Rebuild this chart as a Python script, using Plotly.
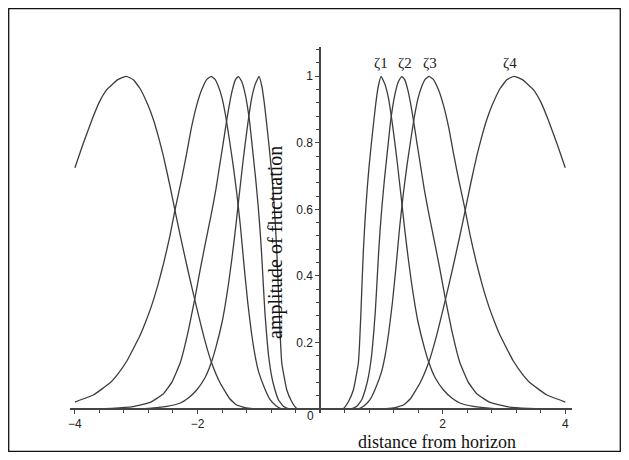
import plotly.graph_objects as go

# Right-hand half of each curve (the picture is mirror-symmetric about x = 0)
zeta1_x = [0.00, 0.36, 0.39, 0.47, 0.544, 0.59, 0.625, 0.645, 0.665, 0.685, 0.705, 0.725, 0.745, 0.77, 0.80, 0.835, 0.87, 0.91, 0.95, 0.995,
           1.06, 1.115, 1.17, 1.22, 1.26, 1.33, 1.387, 1.44, 1.495, 1.55, 1.60, 1.70, 1.77, 1.88, 2.01, 2.15, 2.28, 2.50, 2.80, 3.20, 4.00]
zeta1_y = [0.00, 0.00, 0.003, 0.025, 0.058, 0.10, 0.139, 0.20, 0.285, 0.38, 0.47, 0.54, 0.60, 0.665, 0.73, 0.795, 0.855, 0.92, 0.97, 1.00,
           0.975, 0.935, 0.87, 0.80, 0.74, 0.625, 0.53, 0.45, 0.375, 0.31, 0.26, 0.185, 0.142, 0.093, 0.058, 0.033, 0.018, 0.008, 0.002, 0.0, 0.0]

zeta2_x = [0.00, 0.50, 0.60, 0.68, 0.74, 0.79, 0.84, 0.87, 0.90, 0.925, 0.955, 0.98, 1.01, 1.05, 1.09, 1.15, 1.22, 1.28, 1.333,
           1.38, 1.43, 1.48, 1.53, 1.58, 1.64, 1.70, 1.76, 1.82, 1.88, 1.95, 2.04, 2.15, 2.28, 2.42, 2.56, 2.77, 3.05, 3.40, 4.00]
zeta2_y = [0.00, 0.00, 0.008, 0.028, 0.06, 0.098, 0.16, 0.219, 0.29, 0.37, 0.47, 0.54, 0.61, 0.69, 0.76, 0.864, 0.945, 0.985, 1.00,
           0.99, 0.96, 0.915, 0.86, 0.80, 0.73, 0.66, 0.60, 0.545, 0.49, 0.425, 0.335, 0.235, 0.14, 0.08, 0.045, 0.02, 0.007, 0.002, 0.0]

zeta3_x = [0.00, 0.62, 0.72, 0.815, 0.90, 1.00, 1.06, 1.12, 1.18, 1.24, 1.30, 1.36, 1.42, 1.48, 1.54, 1.60, 1.66, 1.72, 1.778,
           1.85, 1.93, 2.01, 2.10, 2.175, 2.26, 2.365, 2.45, 2.55, 2.65, 2.75, 2.85, 2.94, 3.05, 3.15, 3.30, 3.43, 3.70, 4.00]
zeta3_y = [0.00, 0.00, 0.01, 0.028, 0.06, 0.11, 0.16, 0.23, 0.32, 0.43, 0.55, 0.65, 0.735, 0.81, 0.88, 0.935, 0.97, 0.992, 1.00,
           0.99, 0.96, 0.915, 0.845, 0.77, 0.69, 0.60, 0.52, 0.44, 0.37, 0.31, 0.26, 0.22, 0.18, 0.145, 0.105, 0.078, 0.042, 0.021]

zeta4_x = [0.00, 1.00, 1.20, 1.36, 1.47, 1.63, 1.77, 1.90, 2.04, 2.16, 2.28, 2.36, 2.46, 2.56, 2.64, 2.72, 2.80, 2.94, 3.05, 3.16,
           3.30, 3.48, 3.60, 3.72, 3.86, 4.00]
zeta4_y = [0.00, 0.00, 0.003, 0.012, 0.03, 0.078, 0.139, 0.22, 0.325, 0.42, 0.52, 0.59, 0.68, 0.763, 0.82, 0.87, 0.91, 0.964, 0.99, 1.00,
           0.99, 0.96, 0.923, 0.87, 0.80, 0.725]

curves = [(zeta1_x, zeta1_y), (zeta2_x, zeta2_y), (zeta3_x, zeta3_y), (zeta4_x, zeta4_y)]
labels = ["ζ1", "ζ2", "ζ3", "ζ4"]
label_x = [0.995, 1.387, 1.79, 3.10]

x_tick_vals = [-4, -2, 2, 4]
x_tick_text = ["−4", "−2", "2", "4"]
y_tick_vals = [0.2, 0.4, 0.6, 0.8, 1.0]
y_tick_text = ["0.2", "0.4", "0.6", "0.8", "1"]

XMIN, XMAX = -4.08, 4.11
YMIN, YMAX = -0.012, 1.088

# page body has an 8px margin, so the figure is 16px smaller than the window
W, H = 613, 444
l, r, t, b = 62, 49, 39, 39
pw, ph = W - l - r, H - t - b

fig = go.Figure()
curve_color = "#3c3c3c"
for xs, ys in curves:
    full_x = [-v for v in reversed(xs)] + list(xs[1:])
    full_y = list(reversed(ys)) + list(ys[1:])
    fig.add_trace(go.Scatter(x=full_x, y=full_y, mode="lines",
                             line=dict(color=curve_color, width=1.3, shape="spline", smoothing=0.35),
                             hoverinfo="skip", showlegend=False))

serif = "Liberation Serif, Times New Roman, serif"
sans = "Liberation Sans, Arial, sans-serif"
annotations = []
for lab, lx in zip(labels, label_x):
    annotations.append(dict(x=lx, y=1.04, xref="x", yref="y", text=lab, showarrow=False,
                            font=dict(family=serif, size=15, color="#222")))
annotations.append(dict(x=0, y=0, xref="x", yref="y", text="0", showarrow=False,
                        xanchor="right", yanchor="top", xshift=-4, yshift=2,
                        font=dict(family=sans, size=12, color="#222")))
annotations.append(dict(x=(429 - l) / pw, y=(H - b - 434) / ph, xref="paper", yref="paper",
                        xanchor="center", yanchor="middle", borderpad=0,
                        text="distance from horizon", showarrow=False,
                        font=dict(family=serif, size=18, color="#111")))
annotations.append(dict(x=-0.73, y=0.50, xref="x", yref="y", text="amplitude of fluctuation", showarrow=False,
                        xanchor="center", yanchor="middle",
                        textangle=-90, font=dict(family=serif, size=20, color="#111")))

frame = dict(type="rect", xref="paper", yref="paper",
             x0=(0.7 - l) / pw, x1=(W - 0.7 - l) / pw,
             y0=(-(H - 0.7) + (H - b)) / ph, y1=(H - b - 0.7) / ph,
             line=dict(color="#111", width=1.3))

fig.update_layout(
    width=W, height=H,
    margin=dict(l=l, r=r, t=t, b=b),
    paper_bgcolor="white", plot_bgcolor="white",
    shapes=[frame],
    annotations=annotations,
    xaxis=dict(range=[XMIN, XMAX], showgrid=False, zeroline=False,
               anchor="free", position=(0 - YMIN) / (YMAX - YMIN),
               showline=True, linecolor="#444", linewidth=1.5,
               tickmode="array", tickvals=x_tick_vals, ticktext=x_tick_text,
               ticks="outside", ticklen=4, tickcolor="#444",
               minor=dict(tickmode="linear", tick0=0, dtick=0.4, ticks="outside", ticklen=3, tickcolor="#444"),
               tickfont=dict(family=sans, size=12, color="#222")),
    yaxis=dict(range=[YMIN, YMAX], showgrid=False, zeroline=False,
               anchor="free", position=(0 - XMIN) / (XMAX - XMIN),
               showline=True, linecolor="#444", linewidth=1.5,
               tickmode="array", tickvals=y_tick_vals, ticktext=y_tick_text,
               ticks="outside", ticklen=4, tickcolor="#444",
               minor=dict(tickmode="linear", tick0=0, dtick=0.04, ticks="outside", ticklen=3, tickcolor="#444"),
               tickfont=dict(family=sans, size=12, color="#222")),
)

fig.write_html("out.html")
